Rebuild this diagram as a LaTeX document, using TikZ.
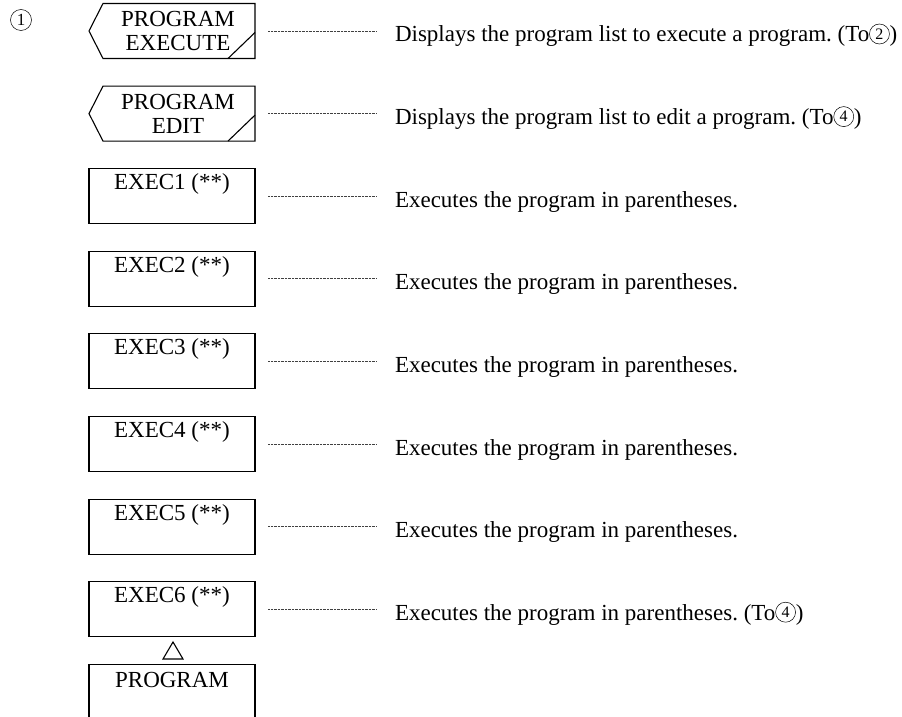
\documentclass[tikz,border=0pt]{standalone}
\usepackage{fontspec}
\setmainfont{Liberation Serif}
\frenchspacing
\newcommand{\cdig}[1]{\tikz[baseline={([yshift=2pt]cd.south)}]\node[circle,draw,line width=0.5pt,inner sep=0pt,minimum size=20pt,font=\fontsize{16}{16}\selectfont] (cd) {#1};}
\begin{document}
\begin{tikzpicture}[x=1pt,y=-1pt,
  txt/.style={font=\fontsize{23}{27}\selectfont, inner sep=0pt, outer sep=0pt},
  frame/.style={minimum width=166pt, minimum height=55pt, inner sep=0pt, outer sep=0pt},
  boxline/.style={line width=1.1pt, line join=miter},
  leader/.style={line width=0.7pt, dash pattern=on 0.9pt off 0.5pt, black!75},
]
\useasboundingbox (0,0) rectangle (902,717);
\node[circle,draw,line width=0.5pt,minimum size=21pt,inner sep=0pt,font=\fontsize{17}{17}\selectfont] (c1) at (21,20) {1};

% pentagon (soft key) boxes
\foreach \n/\y/\a/\b in {1/31/PROGRAM/EXECUTE, 2/113.6/PROGRAM/EDIT} {
  \node[frame] (b\n) at (172,\y) {};
  \draw[boxline] ([xshift=14pt]b\n.north west) -- (b\n.north east) -- (b\n.south east)
     -- ([xshift=14pt]b\n.south west) -- (b\n.west) -- cycle;
  \draw[boxline] ([xshift=-27pt]b\n.south east) -- ([yshift=26pt]b\n.south east);
  \node[txt,anchor=base] (ta\n) at ([xshift=6pt,yshift=-23pt]b\n.north) {\a};
  \node[txt,anchor=base] (tb\n) at ([xshift=6pt,yshift=-47.5pt]b\n.north) {\b};
}

% EXEC boxes
\foreach \n/\y/\k in {3/196.2/1, 4/278.8/2, 5/361.4/3, 6/444/4, 7/526.6/5, 8/609.2/6} {
  \node[frame,draw,boxline] (b\n) at (172,\y) {};
  \node[txt,anchor=base] (t\n) at ([yshift=-21pt]b\n.north) {EXEC\k{} (**)};
}

% descriptions
\node[txt,anchor=base west] (d1) at (395,42) {Displays the program list to execute a program. (To\cdig{2})};
\node[txt,anchor=base west] (d2) at (395,124.6) {Displays the program list to edit a program. (To\cdig{4})};
\foreach \n/\y in {3/207.2, 4/289.8, 5/372.4, 6/455, 7/537.6} {
  \node[txt,anchor=base west] (d\n) at (395,\y) {Executes the program in parentheses.};
}
\node[txt,anchor=base west] (d8) at (395,620.2) {Executes the program in parentheses. (To\cdig{4})};

% leader lines
\foreach \n in {1,...,8} {
  \draw[leader] ([xshift=13pt]b\n.east) -- ([xshift=-18pt]d\n.west |- b\n.east);
}

% triangle and PROGRAM box
\draw[line width=1.1pt, line join=miter] (173,642) -- (183,659) -- (163,659) -- cycle;
\draw[boxline] (89,717) -- (89,664.3) -- (255,664.3) -- (255,717);
\node[txt,anchor=base] (tp) at (172,687.5) {PROGRAM};
\end{tikzpicture}
\end{document}
